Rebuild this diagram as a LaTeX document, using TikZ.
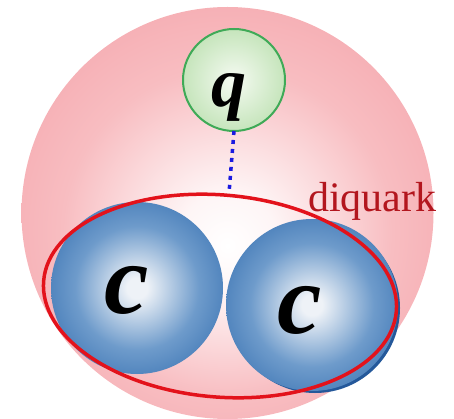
\documentclass[tikz,border=0pt]{standalone}
\usepackage{fontspec}
\setmainfont{Liberation Serif}
\usetikzlibrary{positioning, shapes.geometric}

\definecolor{pinkedge}{HTML}{F4A2A9}
\definecolor{pinkmid}{HTML}{F8BDC1}
\definecolor{greenline}{HTML}{3FAA57}
\definecolor{greenedge}{HTML}{B3DCA6}
\definecolor{greencore}{HTML}{F6FBF3}
\definecolor{ballblue}{HTML}{2C68AC}
\definecolor{ballmid}{HTML}{6E9BCB}
\definecolor{ballcore}{HTML}{EEF2F7}
\definecolor{ballshade}{HTML}{24589A}
\definecolor{diqred}{HTML}{E3121B}
\definecolor{diqtext}{HTML}{B3161E}
\definecolor{gluonblue}{HTML}{1A1AE0}

% the circle edge sits at about 35bp of these shadings
\pgfdeclareradialshading{baryonglow}{\pgfpoint{0bp}{-4bp}}{%
    color(0bp)=(white); color(6bp)=(white!85!pinkmid);
    color(20bp)=(pinkmid); color(35bp)=(pinkedge); color(50bp)=(pinkedge)}
\pgfdeclareradialshading{ballglow}{\pgfpoint{0bp}{0bp}}{%
    color(0bp)=(ballcore); color(3bp)=(ballcore);
    color(18bp)=(ballmid); color(35bp)=(ballblue); color(50bp)=(ballblue)}
\pgfdeclareradialshading{quarkglow}{\pgfpoint{0bp}{0bp}}{%
    color(0bp)=(greencore); color(10bp)=(greencore!70!greenedge);
    color(35bp)=(greenedge); color(50bp)=(greenedge)}

\begin{document}
\begin{tikzpicture}[x=1pt, y=-1pt,
    sphere/.style={circle, inner sep=0pt, outer sep=0pt},
    ball/.style={sphere, minimum size=172pt, shading=ballglow},
    flavour/.style={inner sep=0pt, text=black,
                    font=\fontsize{100}{100}\selectfont\bfseries\itshape},
    link/.style={gluonblue, line width=3.5pt,
                 dash pattern=on 4pt off 5pt}
]
\useasboundingbox (0,0) rectangle (454,419);

% baryon
\node[sphere, minimum size=412pt, shading=baryonglow] (baryon) at (227.5,213) {};

% light quark
\node[sphere, minimum size=102pt, shading=quarkglow,
      draw=greenline, line width=2pt] (q) at (234,80) {};
\node[flavour, font=\fontsize{70}{70}\selectfont\bfseries\itshape] (qname) at (229,97) {q};

% charm quarks
\fill[ballshade] (315,308) circle (85);
\node[ball] (c1) at (137,288) {};
\node[ball] (c2) at (312,305) {};
\node[flavour] (c1name) at (127,290) {c};
\node[flavour] (c2name) at (300,310) {c};

% diquark
\node[ellipse, draw=diqred, line width=3.5pt, minimum width=354pt,
      minimum height=202pt, rotate=-5] (dq) at (220,296) {};
\node[anchor=base west, inner sep=0pt, text=diqtext,
      font=\fontsize{42}{42}\selectfont] (dqname) at (308,212) {diquark};

\draw[link] (q.south) -- (dq.north);
\end{tikzpicture}
\end{document}
